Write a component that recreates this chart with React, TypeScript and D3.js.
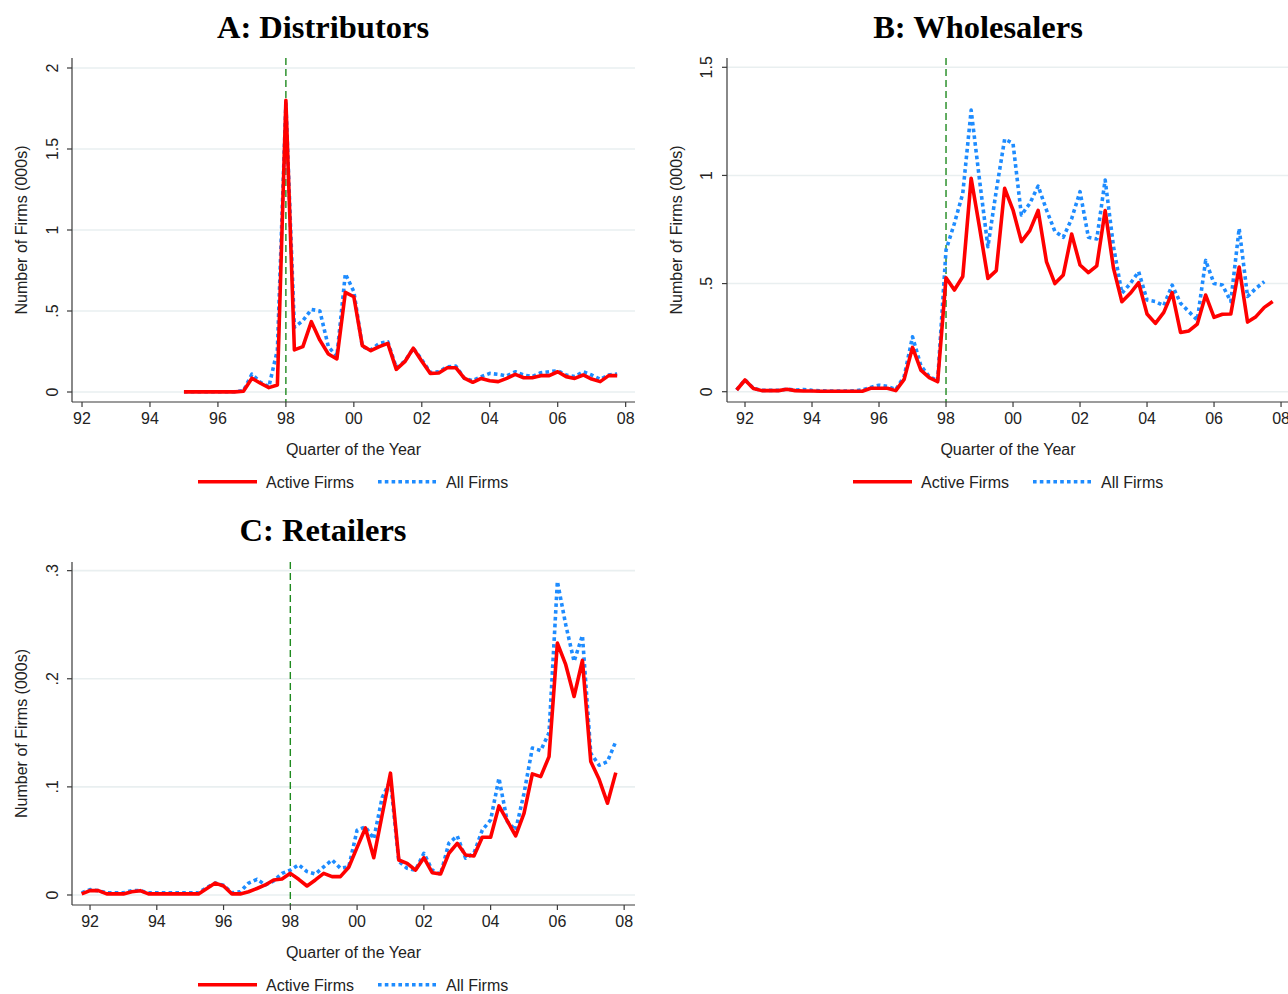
import React from 'react';
import * as d3 from 'd3';

// Quarterly series; index 0 of each array corresponds to its start quarter
// (quarters counted from 1992q1 = 0)
const startActiveA = 12;
const activeA = [0.001, 0.001, 0.001, 0.001, 0.001, 0.001, 0.001, 0.005, 0.085, 0.054, 0.027, 0.043, 1.80, 0.26, 0.28, 0.434, 0.32, 0.235, 0.204, 0.615, 0.588, 0.286, 0.255, 0.28, 0.30, 0.14, 0.187, 0.27, 0.19, 0.115, 0.117, 0.15, 0.15, 0.085, 0.060, 0.084, 0.070, 0.064, 0.084, 0.109, 0.088, 0.088, 0.101, 0.101, 0.125, 0.095, 0.084, 0.105, 0.080, 0.064, 0.101, 0.101];
const startAllA = 12;
const allA = [0.002, 0.002, 0.002, 0.002, 0.002, 0.002, 0.002, 0.008, 0.11, 0.06, 0.033, 0.26, 1.78, 0.40, 0.44, 0.51, 0.50, 0.28, 0.22, 0.73, 0.62, 0.28, 0.26, 0.30, 0.31, 0.15, 0.19, 0.27, 0.20, 0.12, 0.125, 0.156, 0.16, 0.085, 0.07, 0.095, 0.115, 0.109, 0.099, 0.125, 0.105, 0.095, 0.119, 0.125, 0.131, 0.105, 0.095, 0.125, 0.105, 0.078, 0.105, 0.111];

const startActiveB = -1;
const activeB = [0.008, 0.054, 0.015, 0.005, 0.005, 0.005, 0.011, 0.005, 0.003, 0.003, 0.002, 0.002, 0.002, 0.002, 0.002, 0.002, 0.016, 0.016, 0.016, 0.005, 0.057, 0.205, 0.10, 0.065, 0.046, 0.527, 0.47, 0.533, 0.987, 0.76, 0.524, 0.56, 0.94, 0.84, 0.694, 0.745, 0.838, 0.60, 0.50, 0.54, 0.729, 0.586, 0.551, 0.582, 0.838, 0.57, 0.416, 0.455, 0.504, 0.359, 0.316, 0.367, 0.458, 0.274, 0.281, 0.313, 0.447, 0.344, 0.358, 0.359, 0.576, 0.322, 0.347, 0.39, 0.417];
const startAllB = -1;
const allB = [0.008, 0.055, 0.016, 0.006, 0.006, 0.006, 0.012, 0.008, 0.01, 0.006, 0.004, 0.003, 0.003, 0.003, 0.004, 0.008, 0.02, 0.03, 0.025, 0.01, 0.07, 0.254, 0.12, 0.07, 0.05, 0.655, 0.778, 0.917, 1.302, 0.98, 0.67, 0.93, 1.168, 1.148, 0.817, 0.87, 0.951, 0.84, 0.741, 0.714, 0.80, 0.925, 0.714, 0.706, 0.979, 0.67, 0.455, 0.50, 0.555, 0.424, 0.417, 0.398, 0.493, 0.409, 0.37, 0.331, 0.607, 0.50, 0.493, 0.417, 0.755, 0.44, 0.478, 0.509];

const startActiveC = -1;
const activeC = [0.001, 0.004, 0.004, 0.001, 0.001, 0.001, 0.003, 0.004, 0.001, 0.001, 0.001, 0.001, 0.001, 0.001, 0.001, 0.006, 0.011, 0.0083, 0.001, 0.001, 0.003, 0.006, 0.0093, 0.0139, 0.0148, 0.020, 0.0145, 0.0083, 0.0139, 0.020, 0.017, 0.017, 0.0256, 0.044, 0.062, 0.0345, 0.074, 0.1127, 0.0324, 0.0293, 0.023, 0.0345, 0.0206, 0.0194, 0.0386, 0.0478, 0.037, 0.036, 0.0534, 0.0534, 0.0824, 0.0685, 0.0546, 0.0756, 0.112, 0.1095, 0.128, 0.233, 0.213, 0.1836, 0.217, 0.1234, 0.107, 0.0849, 0.1132];
const startAllC = -1;
const allC = [0.002, 0.005, 0.004, 0.002, 0.002, 0.002, 0.004, 0.004, 0.002, 0.002, 0.002, 0.002, 0.002, 0.002, 0.002, 0.007, 0.011, 0.009, 0.002, 0.003, 0.011, 0.0145, 0.0093, 0.013, 0.020, 0.023, 0.028, 0.0216, 0.0194, 0.026, 0.0324, 0.0247, 0.026, 0.060, 0.063, 0.052, 0.09, 0.106, 0.031, 0.0247, 0.023, 0.0386, 0.023, 0.019, 0.048, 0.0546, 0.034, 0.0386, 0.06, 0.0694, 0.108, 0.068, 0.060, 0.094, 0.136, 0.1336, 0.15, 0.29, 0.25, 0.216, 0.24, 0.131, 0.120, 0.1234, 0.142];

const xTickYears = [1992, 1994, 1996, 1998, 2000, 2002, 2004, 2006, 2008];
const xTickLabels = ['92', '94', '96', '98', '00', '02', '04', '06', '08'];
const yTicksA = [0, 0.5, 1, 1.5, 2];
const yLabelsA = ['0', '.5', '1', '1.5', '2'];
const yTicksB = [0, 0.5, 1, 1.5];
const yLabelsB = ['0', '.5', '1', '1.5'];
const yTicksC = [0, 0.1, 0.2, 0.3];
const yLabelsC = ['0', '.1', '.2', '.3'];
const titles = ['A: Distributors', 'B: Wholesalers', 'C: Retailers'];
const legendLabels = ['Active Firms', 'All Firms'];
const eventYear = 1998;

const RED = '#ff0000';
const BLUE = '#1e8cff';
const GREEN = '#1f8a1f';
const AXIS = '#3a3a3a';
const GRID = '#e9eff0';
const SANS = '"Liberation Sans", Arial, Helvetica, sans-serif';
const SERIF = '"Liberation Serif", "Times New Roman", serif';
const FS = 16;

type PanelCfg = {
  title: string;
  dx: number;
  dy: number;
  left: number;
  right: number;
  top: number;
  bottom: number;
  xDomain: [number, number];
  yDomain: [number, number];
  yTicks: number[];
  yLabels: string[];
  active: number[];
  activeStart: number;
  all: number[];
  allStart: number;
  titleX: number;
  yLabelX: number;
  yTitleX: number;
};

const toPoints = (vals: number[], start: number) =>
  vals.map((v, i) => ({ t: 1992 + (start + i) / 4, v }));

function Panel({ c }: { c: PanelCfg }) {
  const x = d3.scaleLinear().domain(c.xDomain).range([c.left, c.right]);
  const y = d3.scaleLinear().domain(c.yDomain).range([c.bottom, c.top]);
  const line = d3
    .line<{ t: number; v: number }>()
    .x((d) => x(d.t))
    .y((d) => y(d.v));
  const activePath = line(toPoints(c.active, c.activeStart)) || '';
  const allPath = line(toPoints(c.all, c.allStart)) || '';
  const midX = (c.left + c.right) / 2;
  const midY = (c.top + c.bottom) / 2;
  const clipId = 'clip' + c.title.charAt(0);
  return (
    <g>
      <defs>
        <clipPath id={clipId}>
          <rect x={c.left} y={c.top - 20} width={c.right - c.left} height={c.bottom - c.top + 20} />
        </clipPath>
      </defs>
      <text x={c.titleX} y={c.dy + 37.5} textAnchor="middle" fontFamily={SERIF} fontWeight="bold" fontSize={32.5} fill="#000">
        {c.title}
      </text>
      {c.yTicks.map((t) => (
        <line key={'g' + t} x1={c.left} x2={c.right} y1={y(t)} y2={y(t)} stroke={GRID} strokeWidth={1.6} />
      ))}
      <line x1={x(eventYear)} x2={x(eventYear)} y1={c.top} y2={c.bottom} stroke={GREEN} strokeWidth={1.4} strokeDasharray="7,4" />
      <g clipPath={`url(#${clipId})`}>
        <path d={allPath} fill="none" stroke={BLUE} strokeWidth={3.6} strokeDasharray="3.6,3.2" strokeLinejoin="round" />
        <path d={activePath} fill="none" stroke={RED} strokeWidth={3.6} strokeLinejoin="round" />
      </g>
      <line x1={c.left} x2={c.left} y1={c.top} y2={c.bottom} stroke={AXIS} strokeWidth={1.2} />
      <line x1={c.left} x2={c.right} y1={c.bottom} y2={c.bottom} stroke={AXIS} strokeWidth={1.2} />
      {c.yTicks.map((t, i) => (
        <g key={'yt' + t}>
          <line x1={c.left - 5} x2={c.left} y1={y(t)} y2={y(t)} stroke={AXIS} strokeWidth={1.2} />
          <text transform={`translate(${c.yLabelX},${y(t)}) rotate(-90)`} textAnchor="middle" fontFamily={SANS} fontSize={FS} fill="#222">
            {c.yLabels[i]}
          </text>
        </g>
      ))}
      <text transform={`translate(${c.yTitleX},${midY}) rotate(-90)`} textAnchor="middle" fontFamily={SANS} fontSize={FS} fill="#222">
        Number of Firms (000s)
      </text>
      {xTickYears.map((yr, i) => (
        <g key={'xt' + yr}>
          <line x1={x(yr)} x2={x(yr)} y1={c.bottom} y2={c.bottom + 5} stroke={AXIS} strokeWidth={1.2} />
          <text x={x(yr)} y={c.bottom + 22} textAnchor="middle" fontFamily={SANS} fontSize={FS} fill="#222">
            {xTickLabels[i]}
          </text>
        </g>
      ))}
      <text x={midX} y={c.bottom + 53} textAnchor="middle" fontFamily={SANS} fontSize={FS} fill="#222">
        Quarter of the Year
      </text>
      <g>
        <line x1={c.dx + 198} x2={c.dx + 257} y1={c.dy + 481.7} y2={c.dy + 481.7} stroke={RED} strokeWidth={3.6} />
        <text x={c.dx + 266} y={c.dy + 488} fontFamily={SANS} fontSize={FS} fill="#222">
          {legendLabels[0]}
        </text>
        <line x1={c.dx + 378} x2={c.dx + 437} y1={c.dy + 481.7} y2={c.dy + 481.7} stroke={BLUE} strokeWidth={3.6} strokeDasharray="3.6,3.2" />
        <text x={c.dx + 446} y={c.dy + 488} fontFamily={SANS} fontSize={FS} fill="#222">
          {legendLabels[1]}
        </text>
      </g>
    </g>
  );
}

const panels: PanelCfg[] = [
  {
    title: titles[0], dx: 0, dy: 0, left: 72, right: 635, top: 58, bottom: 402,
    xDomain: [1991.705, 2008.275], yDomain: [-0.0617, 2.0617],
    yTicks: yTicksA, yLabels: yLabelsA, active: activeA, activeStart: startActiveA,
    all: allA, allStart: startAllA, titleX: 323, yLabelX: 57.5, yTitleX: 27,
  },
  {
    title: titles[1], dx: 655, dy: 0, left: 727, right: 1289, top: 58, bottom: 402,
    xDomain: [1991.4625, 2008.2375], yDomain: [-0.0476, 1.543],
    yTicks: yTicksB, yLabels: yLabelsB, active: activeB, activeStart: startActiveB,
    all: allB, allStart: startAllB, titleX: 978, yLabelX: 712, yTitleX: 682,
  },
  {
    title: titles[2], dx: 0, dy: 503, left: 72, right: 635, top: 562, bottom: 905,
    xDomain: [1991.46, 2008.325], yDomain: [-0.00926, 0.308],
    yTicks: yTicksC, yLabels: yLabelsC, active: activeC, activeStart: startActiveC,
    all: allC, allStart: startAllC, titleX: 323, yLabelX: 57.5, yTitleX: 27,
  },
];

export default function App() {
  return (
    <svg
      width={1288}
      height={994}
      viewBox="0 0 1288 994"
      style={{ position: 'absolute', left: 0, top: 0, background: '#fff' }}
    >
      <rect x={0} y={0} width={1288} height={994} fill="#fff" />
      {panels.map((p) => (
        <Panel key={p.title} c={p} />
      ))}
    </svg>
  );
}
